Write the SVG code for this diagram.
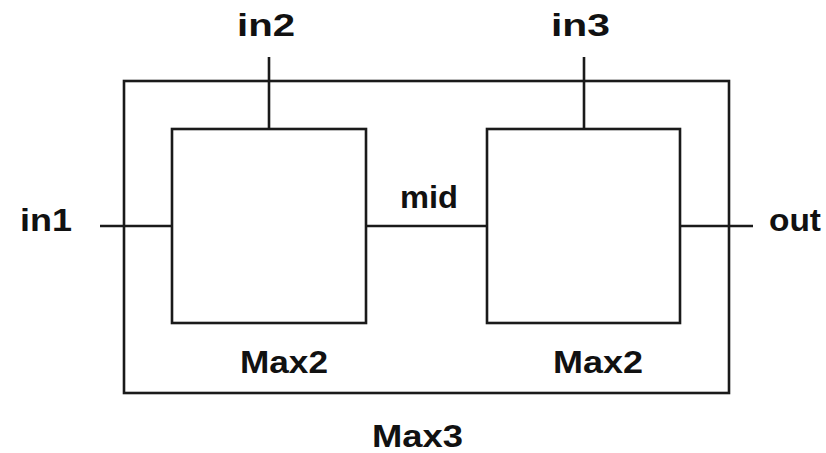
<svg xmlns="http://www.w3.org/2000/svg" width="826" height="453" viewBox="0 0 826 453">
<style>
.box{fill:none;stroke:#1a1a1a;stroke-width:2.6}
.wire{stroke:#1a1a1a;stroke-width:2.6;fill:none}
.lbl{font-family:"Liberation Sans","DejaVu Sans",sans-serif;font-weight:bold;font-size:32px;fill:#111}
</style>
<rect width="826" height="453" fill="#fff"/>
<g id="max3">
<rect class="box" x="124" y="81" width="605" height="312"/>
<text class="lbl" x="372" y="447" textLength="91" lengthAdjust="spacingAndGlyphs">Max3</text>
</g>
<g id="max2a">
<rect class="box" x="172" y="129" width="194" height="194"/>
<text class="lbl" x="240" y="373" textLength="88" lengthAdjust="spacingAndGlyphs">Max2</text>
</g>
<g id="max2b">
<rect class="box" x="487" y="129" width="193" height="194"/>
<text class="lbl" x="553" y="373" textLength="90" lengthAdjust="spacingAndGlyphs">Max2</text>
</g>
<g id="connectors">
<line class="wire" x1="100" y1="226" x2="172" y2="226"/>
<line class="wire" x1="366" y1="226" x2="487" y2="226"/>
<line class="wire" x1="680" y1="226" x2="753" y2="226"/>
<line class="wire" x1="269" y1="57" x2="269" y2="129"/>
<line class="wire" x1="584" y1="57" x2="584" y2="129"/>
</g>
<g id="labels">
<text class="lbl" x="20" y="231" textLength="52" lengthAdjust="spacingAndGlyphs">in1</text>
<text class="lbl" x="237" y="36" textLength="58" lengthAdjust="spacingAndGlyphs">in2</text>
<text class="lbl" x="551" y="36" textLength="59" lengthAdjust="spacingAndGlyphs">in3</text>
<text class="lbl" x="400" y="208" textLength="58" lengthAdjust="spacingAndGlyphs">mid</text>
<text class="lbl" x="769" y="231" textLength="52" lengthAdjust="spacingAndGlyphs">out</text>
</g>
</svg>
